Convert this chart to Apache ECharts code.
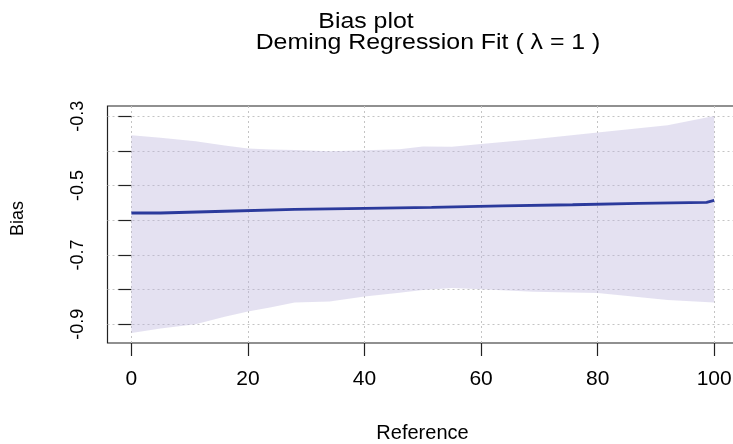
<!DOCTYPE html>
<html>
<head>
<meta charset="utf-8">
<script src="https://cdn.jsdelivr.net/npm/echarts@6/dist/echarts.min.js"></script>
<style>html,body{margin:0;padding:0;background:#fff;}#c{width:733px;height:444px;}</style>
</head>
<body>
<div id="c"></div>
<script>
// ---- data ----
const titleMain = 'Bias plot';
const titleSub = 'Deming Regression Fit ( \u03BB = 1 )';
const xName = 'Reference';
const yName = 'Bias';
const xTicks = [0, 20, 40, 60, 80, 100];
const yTicks = [-0.9, -0.8, -0.7, -0.6, -0.5, -0.4, -0.3];
const yLabels = [-0.9, -0.7, -0.5, -0.3];
// confidence band
const bandX = [0, 5, 11, 16, 20, 24, 28, 34, 40, 46, 50, 55, 60, 69, 80, 92, 100];
const bandUpper = [-0.355, -0.362, -0.372, -0.384, -0.393, -0.396, -0.397, -0.401, -0.398, -0.395, -0.387, -0.388, -0.380, -0.366, -0.347, -0.326, -0.299];
const bandLower = [-0.925, -0.912, -0.900, -0.878, -0.863, -0.851, -0.837, -0.834, -0.820, -0.809, -0.801, -0.795, -0.799, -0.806, -0.810, -0.830, -0.837];
// bias estimate (step line)
const biasX = [0, 5, 16, 28, 40, 51.5, 63.6, 75.7, 87, 98.7, 100];
const biasY = [-0.579, -0.574, -0.5685, -0.5655, -0.5627, -0.5584, -0.5553, -0.5512, -0.5483, -0.5426, -0.5426];

const chart = echarts.init(document.getElementById('c'), null, {renderer: 'canvas'});
const font = 'Liberation Sans, Arial, sans-serif';
const gridLine = {show: true, lineStyle: {color: '#c4c4c4', type: [2, 3], width: 1}};

const option = {
  animation: false,
  backgroundColor: '#ffffff',
  graphic: [
    {type: 'text', x: 366, y: 11, scaleX: 1.13, z: 10,
     style: {text: titleMain, font: '22px "Liberation Sans", Arial, sans-serif', fill: '#000',
             textAlign: 'center', textVerticalAlign: 'top'}},
    {type: 'text', x: 428, y: 32, scaleX: 1.13, z: 10,
     style: {text: titleSub, font: '22px "Liberation Sans", Arial, sans-serif', fill: '#000',
             textAlign: 'center', textVerticalAlign: 'top'}}
  ],
  grid: {left: 107.5, top: 106, width: 630, height: 237, show: true,
         borderColor: '#222', borderWidth: 1.2, backgroundColor: 'transparent',
         outerBoundsMode: 'none', containLabel: false},
  xAxis: {
    type: 'value', min: -4.1, max: 104,
    name: xName, nameLocation: 'middle', nameGap: 80,
    nameTextStyle: {fontFamily: font, fontSize: 20, color: '#000'},
    axisLine: {show: false},
    axisTick: {show: true, inside: false, length: 13, customValues: xTicks,
               lineStyle: {color: '#222', width: 1.2}},
    axisLabel: {customValues: xTicks, margin: 26, fontFamily: font, fontSize: 21, color: '#000',
                formatter: v => String(v)},
    splitLine: gridLine
  },
  yAxis: {
    type: 'value', min: -0.954, max: -0.2704,
    name: yName, nameLocation: 'middle', nameGap: 80, nameRotate: 90,
    nameTextStyle: {fontFamily: font, fontSize: 18, color: '#000', padding: [0, 0, 0, 12]},
    axisLine: {show: false},
    axisTick: {show: true, inside: false, length: 13, customValues: yTicks,
               lineStyle: {color: '#222', width: 1.2}},
    axisLabel: {customValues: yLabels, rotate: 90, margin: 20, fontFamily: font, fontSize: 18, color: '#000',
                formatter: v => v.toFixed(1)},
    splitLine: gridLine
  },
  series: [
    {
      type: 'custom', name: 'band', coordinateSystem: 'cartesian2d', clip: true, silent: true, z: 1,
      data: bandX.map((x, i) => [x, bandUpper[i], bandLower[i]]),
      encode: {x: 0, y: [1, 2]},
      renderItem: function (params, api) {
        if (params.dataIndex !== 0) return null;
        const pts = [];
        for (let i = 0; i < bandX.length; i++) pts.push(api.coord([bandX[i], bandUpper[i]]));
        for (let i = bandX.length - 1; i >= 0; i--) pts.push(api.coord([bandX[i], bandLower[i]]));
        return {type: 'polygon', shape: {points: pts},
                style: {fill: 'rgba(188,180,220,0.40)', stroke: null}};
      }
    },
    {
      type: 'line', name: 'bias', step: 'end',
      data: biasX.map((x, i) => [x, biasY[i]]),
      symbol: 'none', lineStyle: {color: '#2b3a9c', width: 2.8}, z: 5
    }
  ]
};
chart.setOption(option);
</script>
</body>
</html>
